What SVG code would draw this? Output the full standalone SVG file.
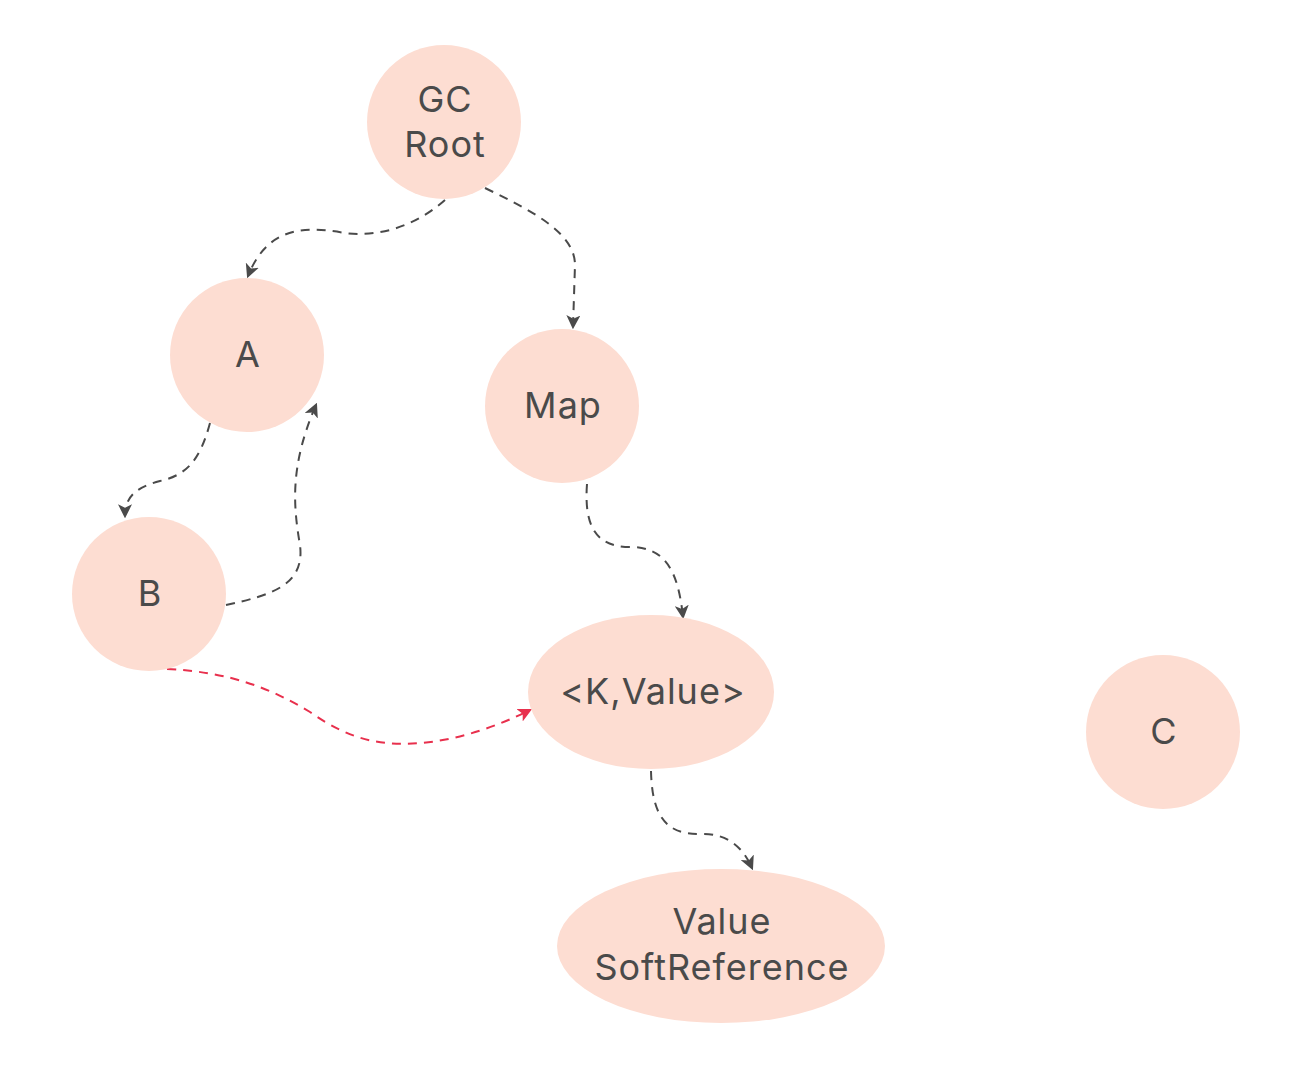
<svg xmlns="http://www.w3.org/2000/svg" width="1303" height="1077" viewBox="0 0 1303 1077">
<style>
.n{fill:#FDDDD2}
.t{font-family:Inter,"Liberation Sans",Arial,sans-serif;font-size:36px;fill:#4a4a4a;text-anchor:middle;letter-spacing:1px}
.e{fill:none;stroke:#4a4a4a;stroke-width:2;stroke-dasharray:9,7}
.r{fill:none;stroke:#E8304D;stroke-width:2;stroke-dasharray:9,7}
</style>
<defs>
<marker id="ag" viewBox="0 0 12 12" refX="10" refY="6" markerWidth="14" markerHeight="14" markerUnits="userSpaceOnUse" orient="auto">
<path d="M0,0 L12,6 L0,12 L3,6 z" fill="#4a4a4a"/>
</marker>
<marker id="ar" viewBox="0 0 12 12" refX="10" refY="6" markerWidth="14" markerHeight="14" markerUnits="userSpaceOnUse" orient="auto">
<path d="M0,0 L12,6 L0,12 L3,6 z" fill="#E8304D"/>
</marker>
</defs>
<rect width="1303" height="1077" fill="#fff"/>
<g id="connectors">
<path class="e" marker-end="url(#ag)" d="M445,200 C420,222 385,238 345,233 C305,226 268,226 248,276"/>
<path class="e" marker-end="url(#ag)" d="M485,188 C530,210 575,232 575,265 L573,327"/>
<path class="e" marker-end="url(#ag)" d="M210,423 C200,460 187,475 160,481 C138,487 125,495 125,516"/>
<path class="e" marker-end="url(#ag)" d="M226,605 C272,595 305,585 300,545 C293,505 290,465 316,405"/>
<path class="e" marker-end="url(#ag)" d="M587,484 C584,525 595,547 630,547 C665,547 678,570 683,617"/>
<path class="r" marker-end="url(#ar)" d="M167,669 C230,672 270,688 310,712 C350,740 380,746 420,743 C460,740 500,725 530,710"/>
<path class="e" marker-end="url(#ag)" d="M651,771 C652,810 662,835 700,834 C725,833 742,845 752,868"/>
</g>
<g id="gcroot"><circle class="n" cx="444" cy="122" r="77"/><text class="t" x="445" y="112">GC</text><text class="t" x="445" y="157">Root</text></g>
<g id="a"><circle class="n" cx="247" cy="355" r="77"/><text class="t" x="248" y="367">A</text></g>
<g id="map"><circle class="n" cx="562" cy="406" r="77"/><text class="t" x="563" y="418">Map</text></g>
<g id="b"><circle class="n" cx="149" cy="594" r="77"/><text class="t" x="150" y="606">B</text></g>
<g id="kv"><ellipse class="n" cx="651" cy="692" rx="123" ry="77"/><text class="t" x="653" y="704">&lt;K,Value&gt;</text></g>
<g id="c"><circle class="n" cx="1163" cy="732" r="77"/><text class="t" x="1164" y="744">C</text></g>
<g id="vsr"><ellipse class="n" cx="721" cy="946" rx="164" ry="77"/><text class="t" x="722" y="934">Value</text><text class="t" x="722" y="980">SoftReference</text></g>
</svg>
